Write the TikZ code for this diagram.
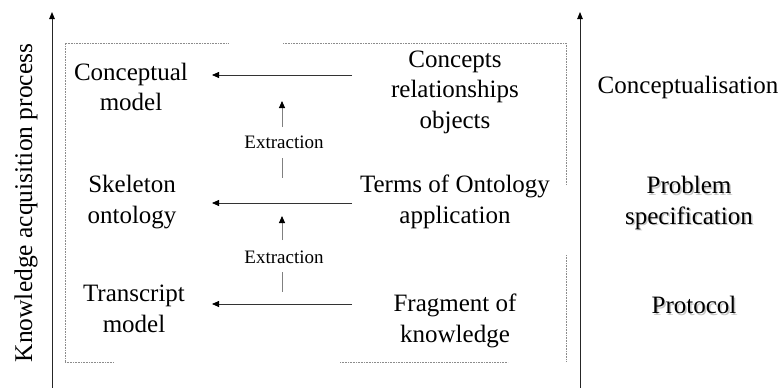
\documentclass[tikz,border=0pt]{standalone}
\usepackage{fontspec}
\setmainfont{Liberation Serif}
\usetikzlibrary{arrows.meta}

\tikzset{
  label text/.style={align=center, inner sep=0pt, font=\fontsize{25}{30.5}\selectfont},
  small text/.style={inner sep=0pt, font=\fontsize{19}{22}\selectfont},
  axis/.style={draw=black!85, line width=0.9pt, -{Triangle[length=7pt,width=5.5pt,fill=black,color=black]}},
  flow/.style={draw=black!80, line width=0.8pt, -{Triangle[length=7pt,width=6pt,fill=black,color=black]}},
  extract/.style={draw=black!50, line width=0.9pt, -{Triangle[length=7pt,width=6pt,fill=black,color=black]}},
  extractline/.style={draw=black!50, line width=0.9pt},
  frame/.style={draw=black!45, line width=0.6pt, dash pattern=on 0.8pt off 0.8pt},
  shadowed/.style={label text, text=black!22},
}

\begin{document}
\begin{tikzpicture}[x=1pt, y=-1pt]
  \useasboundingbox (0,0) rectangle (782,388);

  % vertical axes
  \coordinate (lbot) at (52,388);
  \coordinate (ltop) at (52,12);
  \coordinate (rbot) at (580,388);
  \coordinate (rtop) at (580,12);
  \draw[axis] (lbot) -- (ltop);
  \draw[axis] (rbot) -- (rtop);

  \node[label text, font=\fontsize{25.5}{30}\selectfont, rotate=90] (kap) at (26,203) {Knowledge acquisition process};

  % dotted frame around the knowledge levels
  \draw[frame] (65,362) -- (65,43) -- (228,43);
  \draw[frame] (283,43) -- (566,43) -- (566,185);
  \draw[frame] (566,255) -- (566,362);
  \draw[frame] (65,362) -- (114,362);
  \draw[frame] (340,362) -- (508,362);

  % left column: models
  \node[label text] (cm) at (131,87) {Conceptual\\model};
  \node[label text] (so) at (132,202) {Skeleton\\ontology};
  \node[label text] (tm) at (134,309) {Transcript\\model};

  % middle column: knowledge sources
  \node[label text] (cro) at (455,92) {Concepts\\relationships\\objects};
  \node[label text] (toa) at (455,202) {Terms of Ontology\\application};
  \node[label text] (fok) at (455,321) {Fragment of\\knowledge};

  % right column: phases
  \node[label text] (conc) at (688,87) {Conceptualisation};
  \node[shadowed] at (690.5,204.5) {Problem\\specification};
  \node[label text] (ps) at (689,203) {Problem\\specification};
  \node[shadowed] at (695.5,306.5) {Protocol};
  \node[label text] (prot) at (694,305) {Protocol};

  % horizontal flows
  \coordinate (a1s) at (352,75);  \coordinate (a1e) at (212,75);
  \coordinate (a2s) at (352,203); \coordinate (a2e) at (212,203);
  \coordinate (a3s) at (352,304); \coordinate (a3e) at (212,304);
  \draw[flow] (a1s) -- (a1e);
  \draw[flow] (a2s) -- (a2e);
  \draw[flow] (a3s) -- (a3e);

  % extraction steps
  \node[small text] (ex1) at (284,142) {Extraction};
  \node[small text] (ex2) at (284,257) {Extraction};
  \coordinate (e1a) at (282,127); \coordinate (e1b) at (282,101);
  \coordinate (e1c) at (282,158); \coordinate (e1d) at (282,178);
  \coordinate (e2a) at (282,240); \coordinate (e2b) at (282,216);
  \coordinate (e2c) at (282,272); \coordinate (e2d) at (282,292);
  \draw[extract] (e1a) -- (e1b);
  \draw[extractline] (e1c) -- (e1d);
  \draw[extract] (e2a) -- (e2b);
  \draw[extractline] (e2c) -- (e2d);
\end{tikzpicture}
\end{document}
